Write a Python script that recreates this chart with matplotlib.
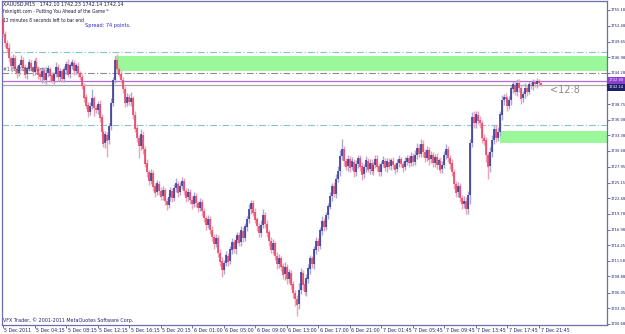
import matplotlib
matplotlib.use("Agg")
import matplotlib.pyplot as plt
import matplotlib.transforms as mtransforms
from matplotlib import font_manager
import numpy as np

# ---------------- data ----------------
first_open = 1753.6
closes = [
    1751.0, 1749.5, 1748.5, 1746.8,
    1745.5, 1746.8, 1745.0, 1744.2, 1745.6,
    1746.5, 1745.2, 1744.0, 1745.0, 1746.0,
    1745.2, 1744.4, 1746.2, 1745.0, 1744.0,
    1743.5, 1744.6, 1743.0, 1744.2, 1745.0,
    1743.8, 1742.9, 1744.0, 1745.3, 1743.6,
    1744.5, 1743.2, 1744.8, 1745.8, 1744.0,
    1745.5, 1746.0, 1744.6, 1745.5, 1744.2,
    1743.5, 1742.0, 1740.0, 1738.6, 1737.5,
    1738.5, 1739.8, 1738.2, 1737.8, 1738.8,
    1736.5, 1734.0, 1732.0, 1733.5, 1732.5, 1735.0,
    1739.0, 1743.0, 1746.5, 1745.0, 1744.0,
    1743.0, 1741.5, 1739.0, 1740.0, 1739.2, 1739.8,
    1737.0, 1734.6, 1733.0, 1731.5, 1733.5, 1731.0, 1728.5, 1727.0,
    1725.5, 1726.8, 1724.5, 1723.5, 1725.0, 1723.8,
    1722.8, 1723.9, 1722.0, 1721.3, 1722.6, 1723.8, 1722.5, 1724.2, 1725.0, 1723.5,
    1724.6, 1725.4, 1723.8, 1722.6, 1723.5, 1722.2, 1721.5, 1722.8, 1721.6, 1720.8,
    1721.8, 1720.2, 1719.0, 1717.8, 1718.8, 1717.0,
    1715.8, 1714.5, 1715.5, 1713.0, 1711.5, 1710.0,
    1711.2, 1712.5, 1711.5, 1713.5, 1714.8, 1713.6, 1715.2,
    1716.0, 1714.8, 1716.8, 1715.6, 1717.5, 1718.8,
    1720.5, 1721.6, 1720.0, 1718.8, 1717.6, 1716.4,
    1717.8, 1719.5, 1718.0, 1716.5, 1715.0,
    1713.5, 1714.6, 1712.5, 1711.0, 1712.0,
    1710.6, 1709.2, 1710.5, 1708.5, 1709.5, 1707.5,
    1706.0, 1705.0, 1704.0, 1706.5,
    1709.5, 1707.5, 1706.2, 1708.5, 1710.2,
    1712.0, 1711.0, 1713.5, 1715.0, 1714.2,
    1716.8, 1718.5, 1717.5, 1719.5, 1721.0,
    1722.8, 1724.5, 1723.2, 1725.8, 1727.2,
    1729.8, 1731.0, 1729.0, 1728.0, 1729.2,
    1727.8, 1728.8, 1727.0, 1728.4, 1729.4, 1728.0, 1726.6, 1727.8, 1729.0, 1727.5,
    1728.6, 1727.2, 1728.2, 1729.3, 1728.0, 1727.0, 1728.4, 1729.0, 1727.8, 1728.8,
    1728.0, 1729.0, 1728.2, 1727.5, 1728.6, 1729.2, 1728.4, 1727.8, 1728.8, 1729.4,
    1728.6, 1729.8, 1728.8, 1730.0, 1731.2, 1730.2,
    1731.8, 1730.5, 1729.5, 1730.8, 1729.2,
    1730.0, 1728.6, 1729.6, 1728.2, 1729.0,
    1727.5, 1728.2, 1730.0, 1731.0, 1729.5,
    1728.5, 1727.0, 1725.0, 1723.5, 1724.5,
    1722.5, 1721.5, 1722.0, 1720.6, 1723.0,
    1732.0, 1736.5,
    1735.5, 1737.0, 1736.0, 1735.5, 1733.0,
    1732.5, 1730.0, 1728.0, 1730.5,
    1732.5, 1734.5, 1733.0, 1734.0,
    1737.0, 1739.5, 1740.0,
    1739.8, 1738.5, 1739.5,
    1741.5,
    1742.2, 1741.0, 1742.5, 1741.6, 1739.8,
    1740.5, 1741.6, 1741.0,
    1742.2, 1742.0, 1742.6, 1742.3, 1742.8, 1742.5, 1742.14,
]

wick_up = [
    0.8, 0.6, 0.5, 0.9, 0.4, 0.7, 0.5, 0.6, 0.4, 0.9,
    0.5, 0.6, 0.4, 0.7, 0.5, 0.3, 0.6, 0.8, 0.4, 0.5,
    0.6, 0.4, 0.5, 0.7, 0.3, 0.6, 0.4, 0.8, 0.5, 0.6,
    0.4, 0.7, 0.5, 0.9, 0.4, 0.6, 0.5, 0.4, 0.6, 0.3,
    0.5, 0.4, 0.6, 0.5, 0.7, 1.6, 0.5, 0.4, 0.6, 0.8,
    0.6, 0.5, 0.7, 0.4, 0.6, 0.8, 0.5, 0.6, 1.0, 0.5,
    0.7, 0.6, 0.5, 0.8, 0.6, 1.2, 0.5, 0.6, 0.7, 0.4,
    1.0, 0.6, 0.5, 0.7, 0.4, 0.8, 0.5, 0.6, 0.7, 0.5,
    0.6, 0.7, 0.4, 0.5, 0.8, 0.6, 0.5, 0.7, 0.9, 0.5,
    0.6, 0.8, 0.5, 0.4, 0.7, 0.5, 0.6, 0.8, 0.5, 0.4,
    0.7, 0.5, 0.6, 0.4, 0.8, 0.5, 0.6, 0.4, 0.7, 0.5,
    0.6, 0.8, 0.5, 0.7, 0.4, 0.6, 0.8, 0.5, 0.7, 0.6,
    0.5, 0.8, 0.6, 0.7, 0.5, 1.0, 0.6, 0.5, 0.7, 0.4,
    0.6, 0.8, 1.0, 0.5, 0.6, 0.4, 0.7, 0.8, 0.5, 0.6,
    0.7, 0.5, 0.6, 0.8, 0.5, 0.7, 0.4, 0.6, 0.5, 0.7,
    1.2, 0.8, 0.5, 0.6, 0.7, 0.8, 0.6, 0.5, 0.7, 0.8,
    0.6, 0.7, 0.8, 0.5, 0.6, 0.7, 0.8, 0.6, 0.7, 0.9,
    0.8, 1.0, 1.7, 0.6, 0.5, 0.7, 0.6, 0.8, 0.5, 0.7,
    0.6, 0.5, 0.7, 0.6, 0.8, 0.5, 0.6, 0.7, 0.5, 0.6,
    0.7, 0.5, 0.6, 0.8, 0.5, 0.6, 0.7, 0.5, 0.6, 0.4,
    0.6, 0.7, 0.5, 0.6, 0.8, 0.5, 0.6, 0.7, 0.5, 0.8,
    0.9, 0.6, 1.0, 0.7, 0.5, 0.8, 0.6, 0.7, 0.5, 0.6,
    0.7, 0.5, 0.6, 0.8, 0.7, 0.9, 0.6, 0.5, 0.7, 0.6,
    0.5, 0.7, 0.6, 0.5, 0.8, 0.6, 0.7, 0.8, 0.9, 1.2,
    0.7, 0.6, 0.8, 0.5, 0.7, 0.6, 0.5, 0.8, 0.9, 0.7,
    0.6, 0.8, 0.7, 0.9, 0.6, 0.7, 0.5, 0.8, 0.6, 0.7,
    0.5, 0.6, 0.7, 0.5, 0.6, 0.8, 0.5, 0.6, 0.4, 0.5,
    0.4, 0.5, 0.3, 0.1,
]

wick_dn = [
    0.5, 0.8, 0.6, 0.7, 0.9, 0.5, 0.6, 0.8, 0.5, 0.4,
    0.7, 0.6, 0.8, 0.5, 0.6, 0.7, 0.5, 0.4, 0.8, 0.6,
    1.0, 0.5, 0.7, 0.6, 0.9, 0.5, 0.6, 0.4, 0.7, 0.8,
    0.6, 0.5, 0.7, 0.4, 0.6, 0.5, 0.8, 0.6, 0.7, 0.5,
    0.6, 0.8, 0.7, 0.9, 0.6, 0.5, 1.5, 0.6, 0.7, 0.8,
    0.9, 0.7, 0.8, 2.9, 0.6, 0.7, 0.5, 0.6, 0.7, 0.5,
    0.6, 0.8, 0.7, 0.5, 0.6, 0.7, 0.8, 0.6, 0.7, 2.0,
    0.6, 0.8, 0.7, 0.9, 0.8, 0.6, 0.7, 0.9, 0.5, 0.8,
    0.7, 0.6, 0.8, 0.9, 0.5, 0.6, 0.7, 0.5, 0.6, 0.8,
    0.5, 0.6, 0.7, 0.8, 0.6, 0.7, 0.9, 0.5, 0.7, 0.8,
    0.6, 0.8, 0.7, 0.9, 0.6, 0.8, 0.7, 0.9, 0.6, 0.8,
    0.9, 1.2, 0.7, 0.6, 0.8, 0.5, 0.7, 0.6, 0.8, 0.5,
    0.7, 0.6, 0.8, 0.5, 0.7, 0.6, 0.8, 0.7, 0.6, 0.9,
    0.7, 0.6, 0.5, 0.8, 0.7, 0.9, 0.6, 0.8, 0.7, 0.9,
    0.6, 0.8, 0.7, 0.9, 1.0, 0.7, 0.9, 0.8, 1.2, 2.0,
    0.8, 0.7, 1.0, 0.6, 0.8, 0.7, 0.9, 0.6, 0.8, 0.7,
    0.9, 0.6, 0.7, 0.8, 0.6, 0.7, 0.5, 0.8, 0.6, 0.7,
    0.6, 0.8, 0.7, 0.9, 0.6, 0.8, 0.7, 0.5, 0.8, 0.6,
    0.7, 0.8, 0.9, 0.6, 0.7, 0.5, 0.8, 0.6, 0.7, 0.5,
    0.8, 0.6, 0.7, 0.5, 0.6, 0.8, 0.5, 0.7, 0.6, 0.8,
    0.5, 0.7, 0.6, 0.8, 0.5, 0.6, 0.7, 0.5, 0.8, 0.6,
    0.7, 0.5, 0.6, 0.8, 0.7, 0.5, 0.9, 0.6, 0.7, 0.8,
    0.6, 0.9, 0.7, 0.6, 0.5, 0.7, 0.8, 0.9, 0.7, 1.0,
    0.8, 0.9, 0.7, 1.0, 0.8, 0.8, 0.9, 1.5, 0.7, 0.9,
    0.8, 0.7, 0.9, 1.0, 0.8, 1.2, 2.2, 0.9, 0.8, 0.7,
    0.8, 0.6, 0.7, 0.9, 0.8, 0.7, 0.9, 0.6, 0.8, 0.7,
    0.6, 0.8, 0.7, 0.9, 0.6, 0.7, 0.8, 0.5, 0.6, 0.7,
    0.5, 0.6, 0.4, 0.1,
]

time_labels = ["5 Dec 2011", "5 Dec 04:15", "5 Dec 08:15", "5 Dec 12:15",
               "5 Dec 16:15", "5 Dec 20:15", "6 Dec 01:00", "6 Dec 05:00",
               "6 Dec 09:00", "6 Dec 13:00", "6 Dec 17:00", "6 Dec 21:00",
               "7 Dec 01:45", "7 Dec 05:45", "7 Dec 09:45", "7 Dec 13:45",
               "7 Dec 17:45", "7 Dec 21:45"]
bars_per_label = 16

price_ticks = [1755.18, 1752.48, 1749.65, 1746.98, 1744.28, 1741.58, 1738.75,
               1736.08, 1733.38, 1730.68, 1727.95, 1725.15, 1722.48, 1719.78,
               1716.98, 1714.25, 1711.58, 1708.88, 1706.05, 1703.35, 1700.68]

bid = 1742.14
ask = 1742.88
sell_limit = 1744.30
cyan_levels = [1747.93, 1735.14]
zone_upper = (57, 1744.60, 1747.10)   # start bar, low, high
zone_lower = (252, 1732.10, 1734.10)

# ---------------- font selection ----------------
_fonts = font_manager.fontManager.ttflist
if any(f.name == "Liberation Sans Narrow" for f in _fonts):
    FK = dict(family=["Liberation Sans Narrow", "DejaVu Sans"])
    S = 1.0
elif any(f.name == "DejaVu Sans" and str(f.stretch) in ("condensed", "semi-condensed") for f in _fonts):
    FK = dict(family=["DejaVu Sans"], stretch="condensed")
    S = 0.9
else:
    FK = dict(family=["DejaVu Sans"])
    S = 0.8

# ---------------- figure ----------------
W, H = 625, 334
fig = plt.figure(figsize=(W / 100, H / 100), dpi=100)
fig.patch.set_facecolor("white")
ax = fig.add_axes([2 / W, 9 / H, 605 / W, 324 / H])

ax.set_xlim(-0.5, 306.5)
ax.set_ylim(1700.68 - 0.173 * 1.5, 1756.74)

n = len(closes)
x = np.arange(n)
c = np.array(closes)
o = np.concatenate([[first_open], c[:-1]])
hi = np.maximum(o, c) + np.array(wick_up)
lo = np.minimum(o, c) - np.array(wick_dn)
up = c >= o

bull_body, bear_body = "#2d2f8e", "#e83a5f"
bull_wick, bear_wick = "#a9a9d8", "#f4a3b6"

# zones
for (s, lo_z, hi_z) in (zone_upper, zone_lower):
    ax.add_patch(plt.Rectangle((s, lo_z), 400, hi_z - lo_z,
                               facecolor="#9af79a", edgecolor="none", zorder=1))

# levels
for lv in cyan_levels:
    ax.axhline(lv, color="#86c4c4", lw=0.8, ls=(0, (6, 2, 1, 2)), zorder=2)
ax.axhline(sell_limit, color="#8a8a8a", lw=0.8, ls=(0, (6, 2, 1, 2)), zorder=2)
ax.axhline(ask, color="#b36ad6", lw=0.9, zorder=2)
ax.axhline(bid, color="#a8a8a8", lw=0.9, zorder=2)

# candles
ax.vlines(x[up], lo[up], hi[up], color=bull_wick, lw=1.0, zorder=3)
ax.vlines(x[~up], lo[~up], hi[~up], color=bear_wick, lw=1.0, zorder=3)
ax.vlines(x[up], o[up], c[up] + 0.05, color=bull_body, lw=1.1, zorder=4)
ax.vlines(x[~up], c[~up] - 0.05, o[~up], color=bear_body, lw=1.1, zorder=4)

# axes styling
axis_col = "#6d6dab"
for side in ("left", "right", "bottom", "top"):
    ax.spines[side].set_color(axis_col)
    ax.spines[side].set_linewidth(0.9)
ax.yaxis.tick_right()
ax.set_yticks(price_ticks)
ax.set_yticklabels([f"{v:.2f}" for v in price_ticks], **FK)
ax.tick_params(axis="y", which="both", length=2.0, width=0.7, color=axis_col,
               labelsize=3.3 * S, labelcolor="#22226e", pad=0.4)
xt = [i * bars_per_label for i in range(len(time_labels))]
ax.set_xticks(xt)
ax.set_xticklabels(time_labels, **FK)
ax.tick_params(axis="x", length=2.0, width=0.7, color=axis_col,
               labelsize=4.2 * S, labelcolor="#22226e", pad=0.2)
for lab in ax.get_xticklabels():
    lab.set_ha("left")
    lab.set_transform(lab.get_transform() +
                      mtransforms.ScaledTranslation(1.5 / 100, 0, fig.dpi_scale_trans))

# price boxes on right axis
trans = mtransforms.blended_transform_factory(ax.transAxes, ax.transData)
ax.text(1.002, ask + 0.1, f"{ask:.2f}", transform=trans, fontsize=3.3 * S, color="#f0e0ff",
        va="center", ha="left", zorder=10, clip_on=False,
        bbox=dict(boxstyle="square,pad=0.4", fc="#8e3fcc", ec="none"), **FK)
ax.text(1.002, bid - 0.4, f"{bid:.2f}", transform=trans, fontsize=3.3 * S, color="white",
        va="center", ha="left", zorder=10, clip_on=False,
        bbox=dict(boxstyle="square,pad=0.4", fc="#1f1f6e", ec="none"), **FK)

# bar timer
ax.text(n + 3.5, 1741.3, "<12:8", fontsize=7, color="#8a8a8a", va="center", ha="left",
        zorder=6)

# header / info texts
def ftext(px, py, s, size, **kw):
    fig.text(px / W, 1 - py / H, s, va="center", ha="left", fontsize=size * S, **FK, **kw)

ftext(3, 4, "XAUUSD,M15   1742.10 1742.23 1742.14 1742.14", 4.3, color="#1a1a3a")
ftext(3, 12, "fxknight.com - Putting You Ahead of the Game\u2122", 3.9, color="#1a1a3a")
ftext(3, 20, "12 minutes 8 seconds left to bar end", 3.9, color="#1a1a3a")
ftext(85, 26, "Spread: 74 points.", 4.4, color="#2a2ad0")
ftext(3, 70, "#1 (2460) sell limit", 4.1, color="#505060")
ftext(3, 320, "VFX Trader, \u00a9 2001-2011 MetaQuotes Software Corp.", 4.3, color="#22226e")

fig.savefig("out.png", dpi=100, facecolor="white")
